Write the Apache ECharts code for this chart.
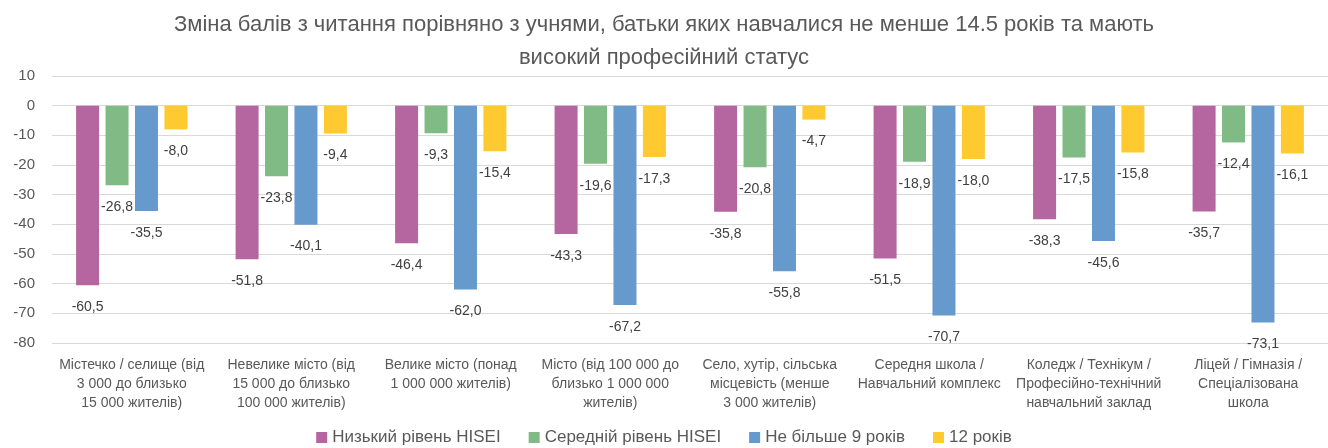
<!DOCTYPE html>
<html>
<head>
<meta charset="utf-8">
<script src="https://cdn.jsdelivr.net/npm/echarts@6/dist/echarts.min.js"></script>
<style>
  html, body { margin: 0; padding: 0; background: #fff; }
  #chart { width: 1328px; height: 448px; }
</style>
</head>
<body>
<div id="chart"></div>
<script>
// Categories (wrapped as in the original)
const categories = [
    'Містечко / селище (від\n3 000 до близько\n15 000 жителів)',
    'Невелике місто (від\n15 000 до близько\n100 000 жителів)',
    'Велике місто (понад\n1 000 000 жителів)',
    'Місто (від 100 000 до\nблизько 1 000 000\nжителів)',
    'Село, хутір, сільська\nмісцевість (менше\n3 000 жителів)',
    'Середня школа /\nНавчальний комплекс',
    'Коледж / Технікум /\nПрофесійно-технічний\nнавчальний заклад',
    'Ліцей / Гімназія /\nСпеціалізована\nшкола'
];

const seriesNames = ['Низький рівень HISEI', 'Середній рівень HISEI', 'Не більше 9 років', '12 років'];

// Values
const lowHisei = [-60.5, -51.8, -46.4, -43.3, -35.8, -51.5, -38.3, -35.7];
const midHisei = [-26.8, -23.8, -9.3, -19.6, -20.8, -18.9, -17.5, -12.4];
const upTo9Years = [-35.5, -40.1, -62.0, -67.2, -55.8, -70.7, -45.6, -73.1];
const years12 = [-8.0, -9.4, -15.4, -17.3, -4.7, -18.0, -15.8, -16.1];

const colors = ['#B5659F', '#80BA84', '#6699CC', '#FFCA2F'];
const font = 'Liberation Sans';

const makeSeries = (name, data, color) => ({
    name: name,
    type: 'bar',
    data: data,
    barWidth: 23,
    barGap: '28%',
    itemStyle: { color: color },
    label: {
        show: true,
        position: 'outside',
        distance: 15,
        color: '#404040',
        fontSize: 14,
        fontFamily: font,
        formatter: (p) => p.value.toFixed(1).replace('.', ',')
    }
});

const chart = echarts.init(document.getElementById('chart'));
chart.setOption({
    animation: false,
    color: colors,
    title: {
        text: 'Зміна балів з читання порівняно з учнями, батьки яких навчалися не менше 14.5 років та мають\nвисокий професійний статус',
        left: 'center',
        top: 3,
        textStyle: {
            color: '#595959',
            fontSize: 22,
            fontWeight: 'normal',
            fontFamily: font,
            lineHeight: 33
        }
    },
    legend: {
        bottom: -3,
        left: 'center',
        itemWidth: 11,
        itemHeight: 11,
        itemGap: 28,
        icon: 'rect',
        textStyle: { color: '#595959', fontSize: 17, fontFamily: font }
    },
    grid: {
        left: 52,
        right: -8,
        top: 76,
        bottom: 105
    },
    xAxis: {
        type: 'category',
        data: categories,
        axisLine: { show: false },
        axisTick: { show: false },
        axisLabel: {
            color: '#595959',
            fontSize: 14,
            fontFamily: font,
            lineHeight: 19,
            margin: 13,
            interval: 0
        }
    },
    yAxis: {
        type: 'value',
        min: -80,
        max: 10,
        interval: 10,
        axisLine: { show: false },
        axisTick: { show: false },
        axisLabel: { color: '#595959', fontSize: 15, fontFamily: font, margin: 17 },
        splitLine: { lineStyle: { color: '#D9D9D9' } }
    },
    series: [
        makeSeries(seriesNames[0], lowHisei, colors[0]),
        makeSeries(seriesNames[1], midHisei, colors[1]),
        makeSeries(seriesNames[2], upTo9Years, colors[2]),
        makeSeries(seriesNames[3], years12, colors[3])
    ]
});
</script>
</body>
</html>
